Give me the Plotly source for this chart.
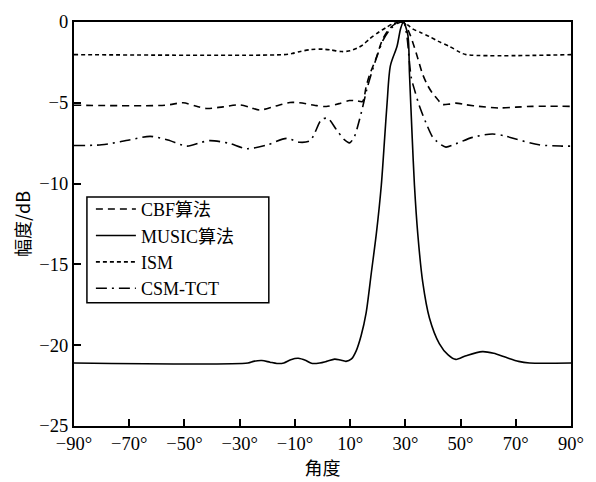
import plotly.graph_objects as go

# ---- data ----
cbf_x = [-90, -57, -50.5, -46, -42, -36, -30, -26, -22.7, -17, -11.8, -8.3, -3, 1.4, 6, 9.8, 12.5, 14.5,
         15.8, 17, 19.5, 21.7, 24.3, 27, 29.3, 31.5, 33.9, 36.2, 38, 39.8, 41.5, 43.4, 46, 48.3, 52,
         56.7, 64, 70, 76, 90]
cbf_y = [-5.15, -5.15, -5.0, -5.2, -5.35, -5.25, -5.13, -5.3, -5.45, -5.2, -4.98, -5.0, -5.15, -5.23,
         -5.05, -4.86, -4.88, -4.92, -4.0, -3.3, -2.2, -1.1, -0.4, -0.06, 0, -0.7, -1.9, -3.2, -3.9,
         -4.4, -4.75, -5.1, -5.08, -5.02, -5.12, -5.22, -5.32, -5.27, -5.22, -5.22]

music_x = [-90, -27, -25, -22, -19, -16.5, -14, -11.5, -8.8, -6, -4, -1, 1.5, 4.4, 6.5, 8.5, 10.5,
           12.2, 14, 15.8, 17.7, 19.5, 21.3, 22.5, 23.4, 24.6, 27.0, 28.3, 29.3, 30.9, 31.5, 32.5,
           33.3, 34.5, 36.3, 38.7, 42.3, 45.5, 48.3, 52, 57.9, 62, 66.4, 71, 75, 90]
music_y = [-21.1, -21.1, -21.0, -20.95, -21.05, -21.13, -21.1, -20.9, -20.81, -20.95, -21.12, -21.1,
           -21.0, -20.86, -20.92, -21.0, -20.85, -20.35, -19.4, -18.0, -15.5, -13.1, -10.1, -7.2,
           -5.0, -2.7, -1.5, -0.4, 0, -0.8, -3.2, -7.2, -10.1, -13.1, -16.1, -18.3, -19.9, -20.6,
           -20.88, -20.65, -20.4, -20.5, -20.75, -21.0, -21.1, -21.1]

ism_x = [-90, -14, -11, -8, -4, 0, 3, 7, 10, 12.5, 14.5, 17, 20.6, 23, 25.3, 27.5, 29.3, 31, 32.6,
         35.5, 38.7, 42, 45.9, 49.5, 52, 90]
ism_y = [-2.02, -2.02, -1.95, -1.82, -1.7, -1.68, -1.73, -1.83, -1.78, -1.62, -1.43, -1.05, -0.6,
         -0.35, -0.12, -0.03, 0, -0.2, -0.42, -0.65, -0.9, -1.2, -1.5, -1.85, -2.02, -2.02]

csm_x = [-90, -80, -70, -62.4, -56, -49.1, -44, -40.7, -34, -27.5, -20, -13, -8.3, -4.5, -2.8, -0.4,
         1.9, 5, 8, 9.8, 11.6, 13, 14.5, 16, 17.6, 19.5, 22, 24.5, 27, 29.3, 30.5, 32.1, 33.5, 35.1,
         37.5, 39.8, 41.1, 43, 44.7, 48.3, 54.3, 61.5, 66, 70, 78.4, 86.7, 90]
csm_y = [-7.64, -7.6, -7.3, -7.08, -7.3, -7.68, -7.45, -7.34, -7.5, -7.84, -7.6, -7.2, -7.44, -7.35,
         -6.86, -6.05, -5.96, -6.65, -7.3, -7.48, -7.07, -6.3, -5.3, -4.2, -3.25, -2.24, -1.1, -0.45,
         -0.1, 0, -0.8, -3.4, -4.3, -5.2, -6.25, -7.1, -7.34, -7.6, -7.74, -7.54, -7.14, -6.93, -7.05,
         -7.24, -7.6, -7.68, -7.68]

x_tick_vals = [-90, -70, -50, -30, -10, 10, 30, 50, 70, 90]
x_tick_text = ["−90°", "−70°", "−50°", "−30°", "−10°", "10°", "30°", "50°", "70°", "90°"]
y_tick_vals = [0, -5, -10, -15, -20, -25]
y_tick_text = ["0", "−5", "−10", "−15", "−20", "−25"]

names = ["CBF算法", "MUSIC算法", "ISM", "CSM-TCT"]

serif = "Liberation Serif, Noto Sans CJK SC"

fig = go.Figure()
series = [(cbf_x, cbf_y, "7px,5px"), (music_x, music_y, "solid"),
          (ism_x, ism_y, "4px,3px"), (csm_x, csm_y, "11px,5px,2px,5px")]
for (xs, ys, dash), nm in zip(series, names):
    fig.add_trace(go.Scatter(
        x=xs, y=ys, mode="lines", name=nm,
        line=dict(color="black", width=1.6, dash=dash, shape="spline", smoothing=0.8),
    ))

# legend frame (the reference frame is wider than plotly's own legend box)
fig.add_shape(type="rect", xref="paper", yref="paper",
              x0=0.026, x1=0.392, y0=0.305, y1=0.567,
              line=dict(color="black", width=1.5), fillcolor="rgba(0,0,0,0)", layer="above")

fig.update_layout(
    width=596, height=482,
    margin=dict(l=74, r=24, t=14, b=55),
    paper_bgcolor="white", plot_bgcolor="white",
    font=dict(family=serif, size=18, color="black"),
    showlegend=True,
    legend=dict(
        x=0.034, y=0.582, xanchor="left", yanchor="top",
        bgcolor="rgba(0,0,0,0)", borderwidth=0,
        font=dict(family=serif, size=18, color="black"),
        tracegroupgap=0, itemwidth=40,
    ),
    xaxis=dict(
        range=[-90, 90], tickvals=x_tick_vals, ticktext=x_tick_text,
        ticks="inside", ticklen=7, tickwidth=1.5, tickcolor="black",
        showline=True, linecolor="black", linewidth=2, mirror=True,
        showgrid=False, zeroline=False,
        tickfont=dict(family=serif, size=18.5),
        title=dict(text="角度", font=dict(family="Noto Sans CJK SC", size=18), standoff=3),
    ),
    yaxis=dict(
        range=[-25, 0], tickvals=y_tick_vals, ticktext=y_tick_text,
        ticks="inside", ticklen=7, tickwidth=1.5, tickcolor="black",
        showline=True, linecolor="black", linewidth=2, mirror=True,
        showgrid=False, zeroline=False,
        tickfont=dict(family=serif, size=18.5),
        title=dict(text="幅度/dB", font=dict(family="Noto Sans CJK SC", size=18), standoff=4),
    ),
)

fig.write_html("out.html")
